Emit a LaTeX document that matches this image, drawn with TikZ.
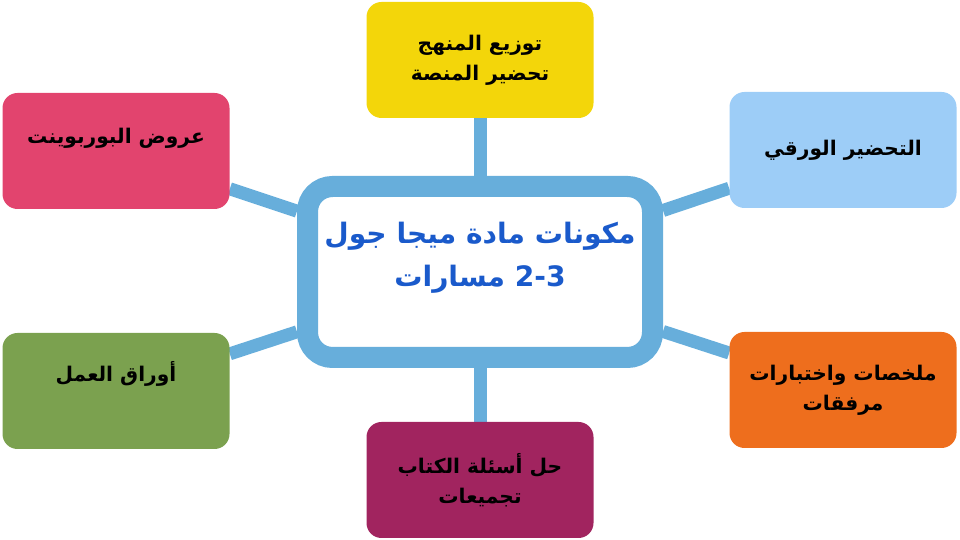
\documentclass[tikz,border=0pt]{standalone}
\usepackage{fontspec}
\newfontfamily\arabicfont[Script=Arabic]{DejaVu Sans}
\TeXXeTstate=1
\usetikzlibrary{backgrounds}

\definecolor{frameblue}{HTML}{67AEDB}
\definecolor{titleblue}{HTML}{1A5ACB}
\definecolor{boxyellow}{HTML}{F3D60A}
\definecolor{boxpink}{HTML}{E2446E}
\definecolor{boxsky}{HTML}{9DCDF7}
\definecolor{boxorange}{HTML}{EE6E1D}
\definecolor{boxplum}{HTML}{A1245F}
\definecolor{boxgreen}{HTML}{7BA14F}

\begin{document}
\begin{tikzpicture}[every node/.style={font=\arabicfont\bfseries},
                    topic/.style={rectangle, rounded corners=0.3cm, minimum width=4.54cm,
                                  minimum height=2.32cm, align=center, text=black,
                                  font=\arabicfont\bfseries\fontsize{11.5}{17}\selectfont},
                    uptext/.style={text depth=0.6cm},
                    every edge/.style={draw, frameblue, line width=0.26cm}]

                    \useasboundingbox (0,0) rectangle (19.2,10.8);

                    % Define nodes
                    \node[rectangle, rounded corners=0.5cm, draw=frameblue, line width=0.42cm, fill=white,
                          minimum width=6.9cm, minimum height=3.42cm] (ctr) at (9.6,5.36) {}; % Centre frame
                    \node[text=titleblue, align=center, font=\arabicfont\bfseries\fontsize{16}{24.5}\selectfont]
                          (ctrtxt) at (9.6,5.64) {\beginR مكونات مادة ميجا جول\endR\\
                          \beginR\beginL 2-3\endL{} مسارات\endR}; % Title
                    \node[topic, fill=boxyellow] (yel) at (9.6,9.6)
                          {\beginR توزيع المنهج\endR\\ \beginR تحضير المنصة\endR}; % Top
                    \node[topic, uptext, fill=boxpink] (pnk) at (2.32,7.78)
                          {\beginR عروض البوربوينت\endR}; % Upper left
                    \node[topic, fill=boxsky] (sky) at (16.86,7.8)
                          {\beginR التحضير الورقي\endR}; % Upper right
                    \node[topic, uptext, text depth=0.8cm, fill=boxgreen] (grn) at (2.32,2.98)
                          {\beginR أوراق العمل\endR}; % Lower left
                    \node[topic, fill=boxorange] (org) at (16.86,3.0)
                          {\beginR ملخصات واختبارات\endR\\ \beginR مرفقات\endR}; % Lower right
                    \node[topic, fill=boxplum] (plm) at (9.6,1.2)
                          {\beginR حل أسئلة الكتاب\endR\\ \beginR تجميعات\endR}; % Bottom

                    % Define edges
                    \begin{scope}[on background layer]
                    \path (ctr) edge (yel);
                    \path (ctr) edge (pnk);
                    \path (ctr) edge (sky);
                    \path (ctr) edge (grn);
                    \path (ctr) edge (org);
                    \path (ctr) edge (plm);
                    \end{scope}
                \end{tikzpicture}
\end{document}
